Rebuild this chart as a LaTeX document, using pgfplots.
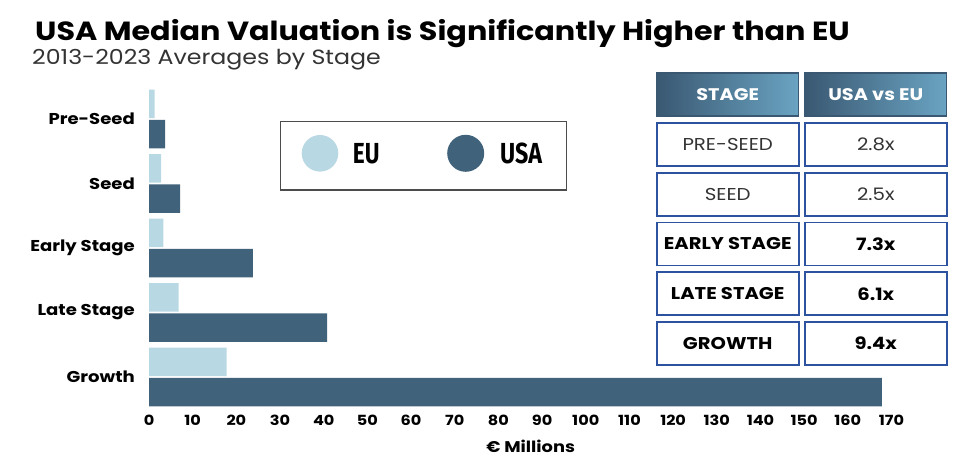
\documentclass[border=0pt]{standalone}
\usepackage{fontspec}
\setmainfont{Poppins}[FakeStretch=1.15]
\newfontfamily\legfont{Fira Sans}
\usepackage{pgfplots}
\pgfplotsset{compat=1.18}
\usepackage{graphicx}

\definecolor{euc}{HTML}{B8D8E3}
\definecolor{usac}{HTML}{40627A}
\definecolor{tblblue}{HTML}{2D52A0}
\definecolor{hdrdark}{HTML}{3A5872}
\definecolor{hdrlight}{HTML}{6AA4C2}

% bar lengths in EUR millions
\pgfplotstableread{
pos eu usa
0 1.3 3.7
1 2.8 7.1
2 3.3 23.8
3 6.8 40.8
4 17.8 167.8
}\valtable

\begin{document}
\begin{tikzpicture}[x=1pt,y=1pt]
\path[use as bounding box] (0,0) rectangle (980,466);

% titles
\node[anchor=base west, inner sep=0] at (35,425)
  {\fontsize{26.3}{28}\selectfont\bfseries USA Median Valuation is Significantly Higher than EU};
\node[anchor=base west, inner sep=0, text=black!80] at (32,401)
  {\fontsize{20.6}{22}\selectfont 2013-2023 Averages by Stage};

\begin{axis}[
  at={(149pt,56.75pt)}, anchor=south west,
  scale only axis,
  width=742.5pt, height=322.5pt,
  xmin=0, xmax=170, ymin=-0.5, ymax=4.5,
  y dir=reverse,
  axis line style={draw=none},
  tick style={draw=none},
  xtick distance=10,
  ytick={0,1,2,3,4},
  yticklabels={Pre-Seed,Seed,Early Stage,Late Stage,Growth},
  /pgf/number format/assume math mode=true,
  x tick label style={font=\fontsize{14}{14}\selectfont\bfseries, inner sep=0pt, yshift=-6pt},
  y tick label style={font=\fontsize{15.7}{15.7}\selectfont\bfseries, inner sep=0pt, xshift=-14pt},
  xlabel={€ Millions},
  xlabel style={at={(axis description cs:0.514,0)}, anchor=base, inner sep=0pt,
    yshift=-43.5pt, font=\fontsize{15.5}{15.5}\selectfont\bfseries},
  clip=false,
]
\addplot[xbar, bar width=0.44, bar shift=-0.235, fill=euc, draw=none] table[x=eu, y=pos] {\valtable};
\addplot[xbar, bar width=0.44, bar shift=0.235, fill=usac, draw=none] table[x=usa, y=pos] {\valtable};
\end{axis}

% legend box
\draw[black!70, line width=1.2pt] (280.7,276) rectangle (566.7,344.3);
\fill[euc] (320,312.7) circle (18.3);
\fill[usac] (465.7,312.7) circle (18.5);
\node[anchor=west, inner sep=0] at (352.7,312.7)
  {\scalebox{0.78}[1]{\legfont\fontsize{29}{29}\selectfont\bfseries EU}};
\node[anchor=west, inner sep=0] at (500,312.7)
  {\scalebox{0.8}[1]{\legfont\fontsize{29}{29}\selectfont\bfseries USA}};

% comparison table
\tikzset{
  hdr/.style={draw=hdrdark, line width=1.5pt, left color=hdrdark, right color=hdrlight,
    minimum height=43pt, inner sep=0pt, text=white, font=\fontsize{16.8}{16.8}\selectfont\bfseries},
  cell/.style={draw=tblblue, line width=1.8pt, fill=white, minimum height=43pt, inner sep=0pt,
    font=\fontsize{17.2}{17.2}\selectfont},
  bcell/.style={cell, font=\fontsize{17}{17}\selectfont\bfseries},
  c1/.style={minimum width=142pt},
  c2/.style={minimum width=141.7pt},
}
\node[hdr, c1] at (727.7,371.7) {STAGE};
\node[hdr, c2] at (875.8,371.7) {USA vs EU};
\node[cell, c1, text=black!80] at (727.7,321.7) {PRE-SEED};
\node[cell, c2, text=black!80] at (875.8,321.7) {2.8x};
\node[cell, c1, text=black!80] at (727.7,271.8) {SEED};
\node[cell, c2, text=black!80] at (875.8,271.8) {2.5x};
\node[bcell, c1] at (727.7,222) {EARLY STAGE};
\node[bcell, c2] at (875.8,222) {7.3x};
\node[bcell, c1] at (727.7,172.2) {LATE STAGE};
\node[bcell, c2] at (875.8,172.2) {6.1x};
\node[bcell, c1] at (727.7,122.3) {GROWTH};
\node[bcell, c2] at (875.8,122.3) {9.4x};
\end{tikzpicture}
\end{document}
